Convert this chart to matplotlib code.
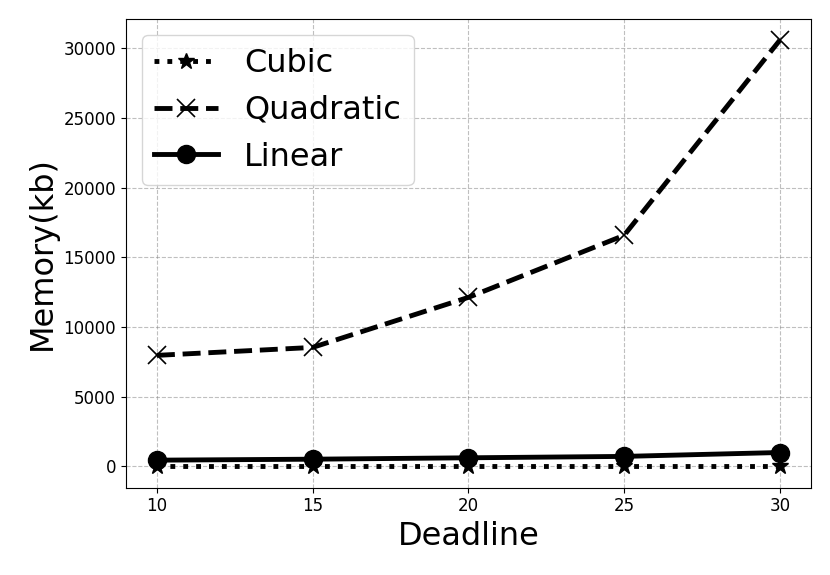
import matplotlib
matplotlib.use("Agg")
import matplotlib.pyplot as plt

deadline = [10, 15, 20, 25, 30]
cubic = [10, 10, 10, 10, 10]
quadratic = [7970, 8540, 12130, 16580, 30580]
linear = [450, 520, 620, 720, 1000]

fig, ax = plt.subplots(figsize=(8.3, 5.75), dpi=100)
ax.plot(deadline, cubic, linestyle=":", marker="*", color="black",
        linewidth=3.5, markersize=12, label="Cubic")
ax.plot(deadline, quadratic, linestyle="--", marker="x", color="black",
        linewidth=3.5, markersize=13, markeredgewidth=1.2, label="Quadratic")
ax.plot(deadline, linear, linestyle="-", marker="o", color="black",
        linewidth=3.5, markersize=13, label="Linear")

ax.set_xticks(deadline)
ax.tick_params(labelsize=12)
ax.set_xlabel("Deadline", fontsize=23)
ax.set_ylabel("Memory(kb)", fontsize=23)
ax.grid(True, linestyle="--", color="grey", alpha=0.5)
ax.legend(loc="upper left", fontsize=23)

plt.subplots_adjust(left=0.1515, right=0.977, bottom=0.152, top=0.967)
plt.savefig("out.png")
